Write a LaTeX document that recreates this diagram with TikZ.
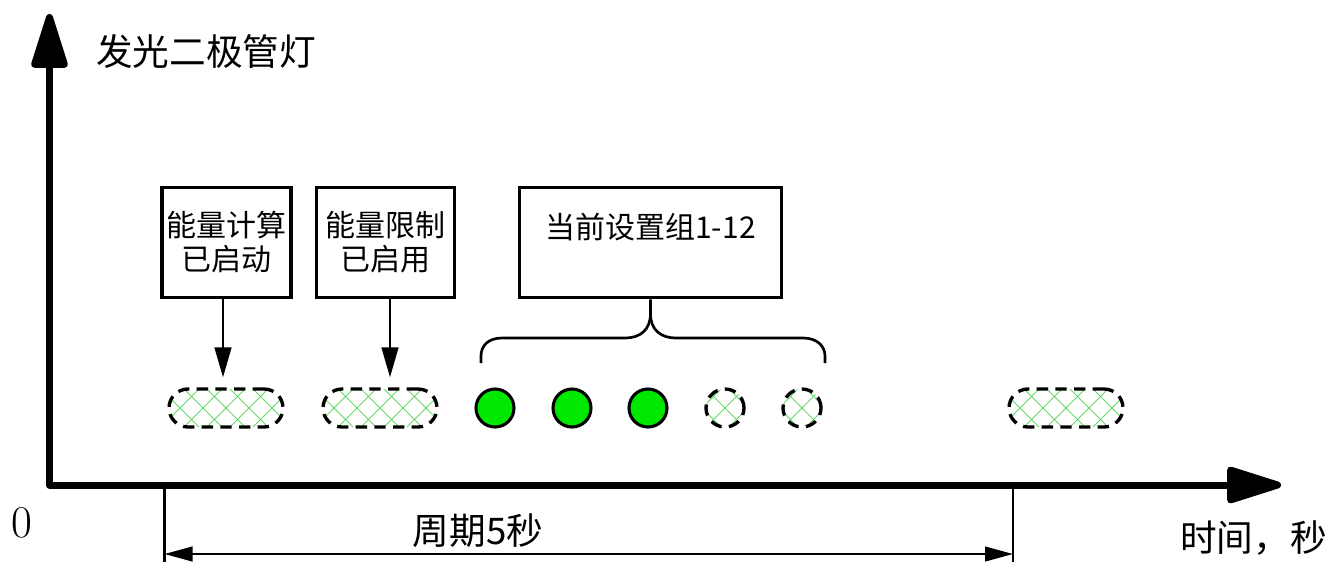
\documentclass[tikz,border=0pt]{standalone}
\usepackage{fontspec}
\newfontfamily\cjk{Noto Sans CJK SC}
\usetikzlibrary{arrows.meta}
\definecolor{ledgreen}{RGB}{0,232,0}
\definecolor{hatchgreen}{RGB}{100,215,100}
\tikzset{
  axis/.style={line width=5.25pt, line join=round,
    {Triangle[length=47pt,width=28pt,round]}-{Triangle[length=47pt,width=28pt,round]}},
  infobox/.style={draw, line width=2.4pt, inner sep=0pt, align=center,
    font=\cjk\fontsize{22.5}{25.5}\selectfont},
  pointer/.style={line width=1.9pt, -{Triangle[length=22.5pt,width=12.5pt]}},
  ledon/.style={circle, draw, line width=2.3pt, fill=ledgreen, inner sep=0pt, minimum size=28.5pt},
  hatched/.style={path picture={
    \foreach \k in {-4,...,4}{
      \draw[hatchgreen, line width=0.6pt, solid]
        (path picture bounding box.center) ++(\k*23-30,-30) -- ++(60,60);
      \draw[hatchgreen, line width=0.6pt, solid]
        (path picture bounding box.center) ++(\k*23-30,30) -- ++(60,-60);
    }}},
  dashedline/.style={draw, line width=2.5pt, dash pattern=on 8.5pt off 5.5pt},
  ledoff/.style={circle, dashedline, hatched, inner sep=0pt, minimum size=28.5pt},
  pill/.style={rectangle, rounded corners=14.25pt, dashedline, hatched, inner sep=0pt,
    minimum width=85.5pt, minimum height=28.5pt},
  tick/.style={line width=2pt},
  span/.style={line width=1.6pt, {Triangle[length=21pt,width=11pt]}-{Triangle[length=21pt,width=11pt]}},
  brace/.style={line width=2pt},
  axislabel/.style={font=\cjk\fontsize{27.5}{30}\selectfont, inner sep=0pt},
}
\begin{document}
\begin{tikzpicture}[x=0.75pt,y=-0.75pt]
\useasboundingbox (0,0) rectangle (1332,562);
% axes
\coordinate (Ytop) at (49.5,14);
\coordinate (O) at (49.5,485);
\coordinate (Xend) at (1281,485);
\draw[axis] (Ytop) -- (O) -- (Xend);
\node[axislabel, anchor=west] (ylab) at (96,52) {发光二极管灯};
\node[axislabel, anchor=east] (xlab) at (1327,538) {时间，秒};
\node[font=\fontsize{34}{36}\selectfont, inner sep=0pt] (zero) at (22,523) {0};
% boxes
\node[infobox, minimum width=96.75pt, minimum height=83pt] (b1) at (226.5,242.5) {能量计算\\已启动};
\node[infobox, minimum width=103pt, minimum height=83pt] (b2) at (385.5,242.5) {能量限制\\已启用};
\node[infobox, minimum width=196pt, minimum height=83pt] (b3) at (650.5,242.5) {当前设置组1-12\\~};
% LEDs
\node[pill] (p1) at (226,408) {};
\node[pill] (p2) at (380,408) {};
\node[pill] (p3) at (1066,408) {};
\node[ledon] (c1) at (495,408) {};
\node[ledon] (c2) at (572,408) {};
\node[ledon] (c3) at (648,408) {};
\node[ledoff] (c4) at (725,408) {};
\node[ledoff] (c5) at (802,408) {};
% pointers
\draw[pointer, shorten >=7.5pt] (b1.south -| 223,0) -- (p1.north -| 223,0);
\draw[pointer, shorten >=7.5pt] (b2.south -| 390,0) -- (p2.north -| 390,0);
% brace
\draw[brace] (b3.south) -- ++(0,14)
  .. controls (650.5,330) and (640,338) .. (625,338)
  -- (502,338)
  .. controls (488,338) and (481,346) .. (481,356) -- (481,363);
\draw[brace] (650.5,314)
  .. controls (650.5,330) and (661,338) .. (676,338)
  -- (803,338)
  .. controls (817,338) and (825,346) .. (825,356) -- (825,363);
% period
\coordinate (t0) at (164.5,485);
\coordinate (t1) at (1013,485);
\coordinate (t0b) at (164.5,562);
\coordinate (t1b) at (1013,562);
\draw[tick] (t0) -- (t0b);
\draw[tick] (t1) -- (t1b);
\coordinate (s0) at (164.5,554);
\coordinate (s1) at (1013,554);
\draw[span] (s0) -- (s1);
\node[font=\cjk\fontsize{27.5}{30}\selectfont, inner sep=0pt] (per) at (478,531) {周期5秒};
\end{tikzpicture}
\end{document}
